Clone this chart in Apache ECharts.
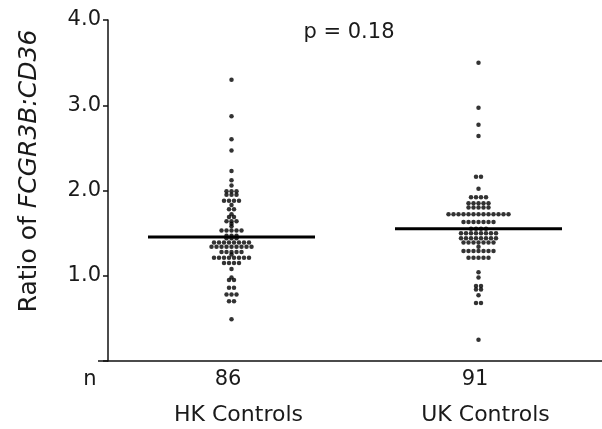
<!DOCTYPE html>
<html><head><meta charset="utf-8">
<script src="https://cdn.jsdelivr.net/npm/echarts@6/dist/echarts.min.js"></script>
<style>html,body{margin:0;padding:0;background:#fff}#c{width:602px;height:429px}</style>
</head><body><div id="c"></div>
<script>
// ---- data ----
const categories = ['HK Controls', 'UK Controls'];
const sampleSizes = ['86', '91'];
const yTickLabels = ['1.0', '2.0', '3.0', '4.0'];
const pValueText = 'p = 0.18';
const yAxisTitlePlain = 'Ratio of ';
const yAxisTitleItalic = 'FCGR3B:CD36';
const centralLineValues = [1.455, 1.55];

const hkValues = [
  3.30, 2.87, 2.60, 2.47, 2.23, 2.12, 2.06,
  1.99, 1.99, 1.99, 1.95, 1.95, 1.95,
  1.88, 1.88, 1.88, 1.88, 1.83, 1.78, 1.78, 1.72, 1.69, 1.69,
  1.64, 1.64, 1.64, 1.61, 1.58, 1.53, 1.53, 1.53, 1.53, 1.53,
  1.47, 1.47, 1.47, 1.44, 1.44, 1.44,
  1.39, 1.39, 1.39, 1.39, 1.39, 1.39, 1.39, 1.39,
  1.34, 1.34, 1.34, 1.34, 1.34, 1.34, 1.34, 1.34, 1.34,
  1.28, 1.28, 1.28, 1.28, 1.28, 1.25,
  1.21, 1.21, 1.21, 1.21, 1.21, 1.21, 1.21, 1.21,
  1.15, 1.15, 1.15, 1.15, 1.08,
  0.98, 0.95, 0.95, 0.86, 0.86, 0.78, 0.78, 0.78, 0.70, 0.70, 0.49
];

const ukValues = [
  3.50, 2.97, 2.77, 2.64, 2.16, 2.16, 2.02,
  1.92, 1.92, 1.92, 1.92,
  1.85, 1.85, 1.85, 1.85, 1.85,
  1.80, 1.80, 1.80, 1.80, 1.80,
  1.72, 1.72, 1.72, 1.72, 1.72, 1.72, 1.72, 1.72, 1.72, 1.72, 1.72, 1.72, 1.72,
  1.63, 1.63, 1.63, 1.63, 1.63, 1.63, 1.63,
  1.55, 1.55, 1.55, 1.55,
  1.50, 1.50, 1.50, 1.50, 1.50, 1.50, 1.50, 1.50,
  1.44, 1.44, 1.44, 1.44, 1.44, 1.44, 1.44, 1.44,
  1.39, 1.39, 1.39, 1.39, 1.39, 1.39, 1.39, 1.34,
  1.29, 1.29, 1.29, 1.29, 1.29, 1.29, 1.29,
  1.21, 1.21, 1.21, 1.21, 1.21,
  1.04, 0.98, 0.88, 0.88, 0.84, 0.84, 0.77, 0.68, 0.68, 0.25
];

// ---- layout ----
const W = 602, H = 429;
const grid = { left: 108, right: 0, top: 20, bottom: 68 };
const xMin = 0.5, xMax = 2.5;
const unitPx = (W - grid.left - grid.right) / (xMax - xMin);
const dotGapPx = 5;
const halfLinePx = 83.5;
const font = 'DejaVu Sans';
const txt = '#1a1a1a';
const ink = '#111';

function swarm(values, center) {
  const groups = new Map();
  values.forEach(v => {
    const k = v.toFixed(2);
    if (!groups.has(k)) groups.set(k, []);
    groups.get(k).push(v);
  });
  const pts = [];
  groups.forEach(arr => {
    const n = arr.length;
    arr.forEach((v, i) => pts.push([center + (i - (n - 1) / 2) * dotGapPx / unitPx, v]));
  });
  return pts;
}

const groupsData = [hkValues, ukValues];
const series = [];
groupsData.forEach((vals, gi) => {
  const c = gi + 1;
  const h = halfLinePx / unitPx;
  series.push({
    type: 'line', xAxisIndex: 0, z: 2, silent: true,
    data: [[c - h, centralLineValues[gi]], [c + h, centralLineValues[gi]]],
    symbol: 'none', lineStyle: { color: '#000', width: 3 }
  });
  series.push({
    type: 'scatter', xAxisIndex: 0, z: 3,
    data: swarm(vals, c), symbol: 'circle', symbolSize: 4.5,
    itemStyle: { color: '#000' }
  });
});

const axisY = H - grid.bottom;
const chart = echarts.init(document.getElementById('c'), null, { renderer: 'canvas' });
chart.setOption({
  animation: false,
  backgroundColor: '#fff',
  grid: grid,
  xAxis: [
    {
      type: 'value', min: xMin, max: xMax, position: 'bottom',
      axisLine: { show: true, onZero: false, lineStyle: { color: ink, width: 1.5 } },
      axisTick: { show: false }, axisLabel: { show: false }, splitLine: { show: false }
    },
    {
      type: 'category', data: categories, position: 'bottom', offset: 0,
      axisLine: { show: false }, axisTick: { show: false }, splitLine: { show: false },
      axisLabel: {
        margin: 4,
        formatter: (v, i) => '{n|' + sampleSizes[i] + '}\n{c|' + v + '}',
        rich: {
          n: { fontFamily: font, fontSize: 21, lineHeight: 30, color: txt, padding: [0, 7, 0, 0] },
          c: { fontFamily: font, fontSize: 22, lineHeight: 40, color: txt, padding: [0, 0, 0, 14] }
        }
      }
    }
  ],
  yAxis: {
    type: 'value', min: 0, max: 4, interval: 1,
    axisLine: { show: true, lineStyle: { color: ink, width: 1.5 } },
    axisTick: { show: true, length: 5, lineStyle: { color: ink, width: 1.5 } },
    axisLabel: {
      margin: 7, fontFamily: font, fontSize: 21, color: txt,
      formatter: v => (v === 0 ? '' : yTickLabels[Math.round(v) - 1])
    },
    splitLine: { show: false }
  },
  graphic: [
    { type: 'line', shape: { x1: grid.left - 10, y1: axisY, x2: grid.left, y2: axisY },
      style: { stroke: ink, lineWidth: 1.5 } },
    { type: 'text', x: 90, y: 380,
      style: { text: 'n', fontFamily: font, fontSize: 21, fill: txt, align: 'center', verticalAlign: 'middle' } },
    { type: 'text', x: 349, y: 33,
      style: { text: pValueText, fontFamily: font, fontSize: 21, fill: txt, align: 'center', verticalAlign: 'middle' } },
    { type: 'text', x: 29, y: 171, rotation: Math.PI / 2,
      style: {
        text: '{a|' + yAxisTitlePlain + '}{b|' + yAxisTitleItalic + '}',
        align: 'center', verticalAlign: 'middle',
        rich: {
          a: { fontFamily: font, fontSize: 25, fill: txt, color: txt },
          b: { fontFamily: font, fontSize: 25, fontStyle: 'italic', fill: txt, color: txt }
        }
      } }
  ],
  series: series
});
</script>
</body></html>
